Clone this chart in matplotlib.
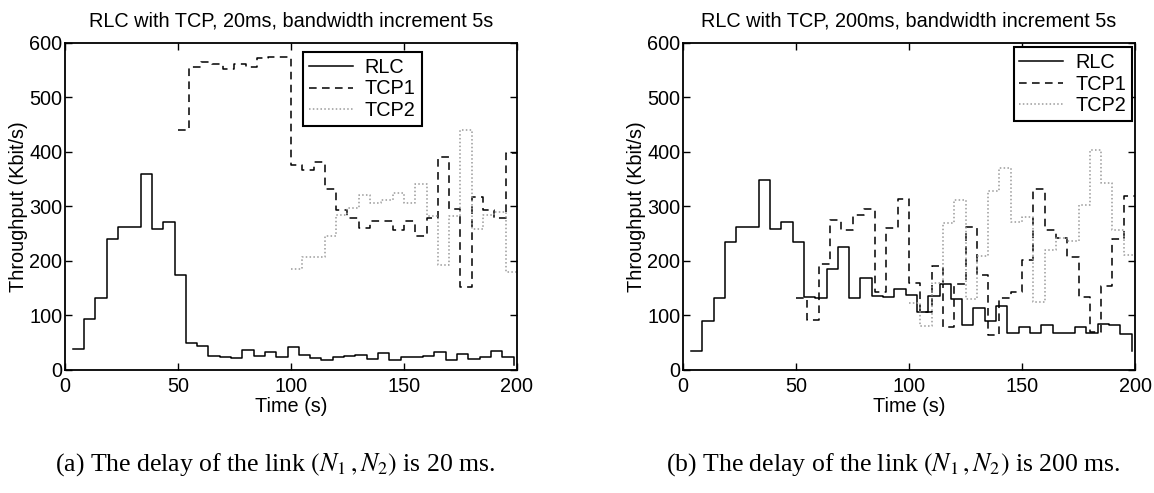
import numpy as np
import matplotlib
matplotlib.use("Agg")
import matplotlib.pyplot as plt

# ---- data (Kbit/s), 5 s bins ----
# RLC flows start at 3.5 s
rlc_t = np.arange(40) * 5 + 3.5
rlc_20ms = [38.6, 93, 133, 240, 263, 263, 359, 259, 272, 174,
            50, 44, 25.7, 23.2, 21.4, 36.7, 25.7, 33.6, 23.2, 41.6,
            27.5, 21.4, 18.3, 24.5, 25.7, 27.5, 19.6, 31.8, 18.3, 24.5,
            23.2, 25.7, 33.6, 18.3, 29.4, 19.6, 23.2, 35.5, 24.5, 10]
rlc_200ms = [35.5, 90.6, 131.6, 235.7, 263, 263, 347.7, 259, 272, 234,
             134, 132, 186, 225, 133, 168, 136, 134.5, 149, 137,
             106, 136, 158, 131, 83, 113, 90, 117, 67, 78,
             67, 83, 67, 68, 78, 67, 84, 83, 66, 34]

# TCP1 starts at 50 s
tcp1_t = np.arange(31) * 5 + 50
tcp1_20ms = [441, 556, 565, 562, 553, 562, 556, 572, 575, 575,
             376, 367, 382, 332, 294, 278, 260, 273, 273, 257,
             273, 246, 278, 390, 295, 152, 318, 294, 278, 399, 399]
tcp1_200ms = [133, 92, 194, 275, 257, 284, 295, 144, 260, 314,
              160, 107, 190, 78, 158, 263, 175, 64, 133, 144,
              202, 333, 256, 242, 208, 134, 70, 154, 240, 319, 319]

# TCP2 starts at 100 s
tcp2_t = np.arange(21) * 5 + 100
tcp2_20ms = [185, 207, 207, 246, 284, 298, 321, 306, 311, 325,
             307, 342, 283, 193, 282, 441, 258, 284, 290, 179, 179]
tcp2_200ms = [123, 80, 160, 270, 312, 131, 209, 328, 370, 272,
              280, 125, 221, 242, 236, 303, 404, 344, 257, 211, 211]

titles = ["RLC with TCP, 20ms, bandwidth increment 5s",
          "RLC with TCP, 200ms, bandwidth increment 5s"]
captions = [r"(a) The delay of the link $(N_1\,,N_2)$ is 20 ms.",
            r"(b) The delay of the link $(N_1\,,N_2)$ is 200 ms."]
xticks = [0, 50, 100, 150, 200]
yticks = [0, 100, 200, 300, 400, 500, 600]

plt.rcParams['font.family'] = ['Liberation Sans', 'DejaVu Sans']
plt.rcParams['mathtext.fontset'] = 'stix'

fig = plt.figure(figsize=(11.54, 4.93), dpi=100)

panels = [
    (0.0563, rlc_20ms, tcp1_20ms, tcp2_20ms, (0.527, 0.972), 'upper left'),
    (0.5919, rlc_200ms, tcp1_200ms, tcp2_200ms, (0.993, 0.987), 'upper right'),
]

fs = 14.3
for i, (left, rlc, tcp1, tcp2, anchor, loc) in enumerate(panels):
    ax = fig.add_axes([left, 0.2495, 0.3917, 0.6633])
    ax.step(rlc_t, rlc, where='post', color='black', lw=1.1, label='RLC')
    ax.step(tcp1_t, tcp1, where='post', color='black', lw=1.1,
            linestyle=(0, (5, 3.5)), label='TCP1')
    ax.step(tcp2_t, tcp2, where='post', color='#9a9a9a', lw=1.1,
            linestyle=(0, (1, 1.5)), label='TCP2')
    ax.set_xlim(0, 200)
    ax.set_ylim(0, 600)
    ax.set_xticks(xticks)
    ax.set_yticks(yticks)
    ax.tick_params(direction='in', top=True, right=True, length=5,
                   width=1, labelsize=fs)
    ax.tick_params(axis='x', pad=5)
    ax.tick_params(axis='y', pad=2)
    for s in ax.spines.values():
        s.set_linewidth(1.3)
    ax.set_title(titles[i], fontsize=fs, pad=12)
    ax.set_xlabel("Time (s)", fontsize=fs, labelpad=1)
    ax.set_ylabel("Throughput (Kbit/s)", fontsize=fs, labelpad=1)
    leg = ax.legend(loc=loc, bbox_to_anchor=anchor, fontsize=fs,
                    fancybox=False, framealpha=1, edgecolor='black',
                    handlelength=2.2, handletextpad=0.6, borderpad=0.3,
                    labelspacing=0.12, borderaxespad=0)
    leg.get_frame().set_linewidth(1.5)
    fig.text(left + 0.3917 / 2 - 0.014, 0.045, captions[i], ha='center',
             va='baseline', fontsize=18.5, family='Liberation Serif')

fig.savefig("out.png", dpi=100)
